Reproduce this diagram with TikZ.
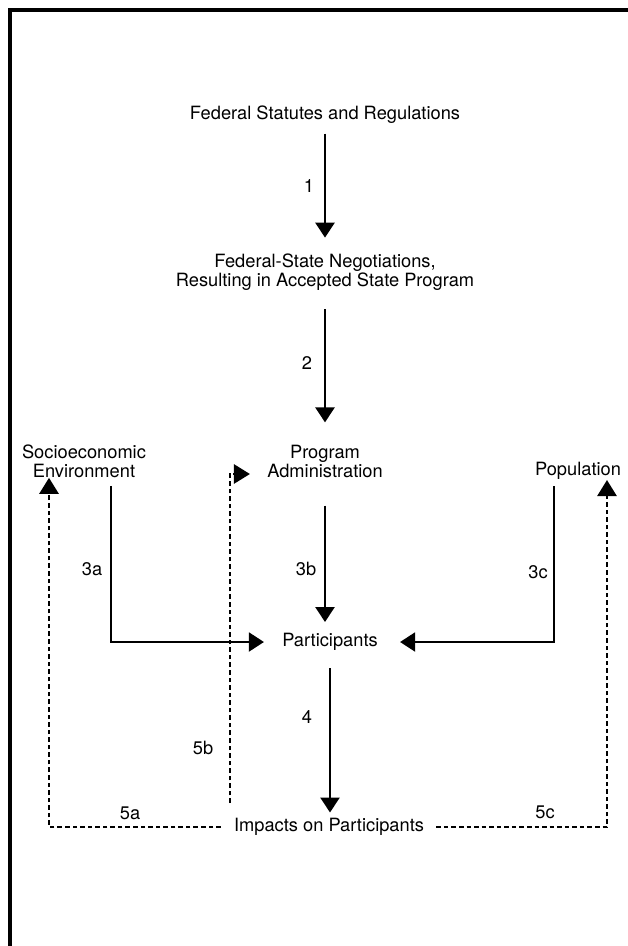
\documentclass[tikz,border=0pt]{standalone}
\usepackage{fontspec}
\setmainfont{TeX Gyre Heros}
\usetikzlibrary{arrows.meta, positioning, calc}

\tikzset{
  box/.style={inner sep=0pt, align=center, font=\fontsize{10.4}{10.8}\selectfont},
  num/.style={inner sep=0pt, font=\fontsize{10.4}{10.8}\selectfont},
  flow/.style={line width=1.5pt, -{Triangle[length=0.3cm, width=0.38cm]}},
  feedback/.style={line width=1.5pt, dash pattern=on 2.6pt off 1.7pt,
    -{Triangle[length=0.32cm, width=0.38cm]}},
}

\begin{document}
\begin{tikzpicture}[x=0.02cm, y=-0.02cm]
    \useasboundingbox (0,0) rectangle (628,946);
    % frame
    \draw[line width=1.9pt] (10,946) -- (10,10) -- (628,10);

    % main column
    \node[box] (stat) at (325,115) {Federal Statutes and Regulations};
    \node[box, font=\fontsize{10.4}{9.8}\selectfont]
      (neg) at (325,272) {Federal-State Negotiations,\\Resulting in Accepted State Program};
    \node[box] (admin) at (325,461) {Program\\Administration};
    \node[box] (socio) at (84,461) {Socioeconomic\\Environment};
    \node[box] (pop) at (578,471) {Population};
    \node[box] (part) at (330,642) {Participants};
    \node[box] (imp) at (329,827) {Impacts on Participants};
    \coordinate (back) at (230,803);

    % labels
    \node[num] (n1) at (309,186) {1};
    \node[num] (n2) at (307,363) {2};
    \node[num] (n3a) at (92,569) {3a};
    \node[num] (n3b) at (306,569) {3b};
    \node[num] (n3c) at (538,572) {3c};
    \node[num] (n4) at (307,717) {4};
    \node[num] (n5a) at (130,813) {5a};
    \node[num] (n5b) at (203,748) {5b};
    \node[num] (n5c) at (545,812) {5c};

    \draw[flow, shorten <=0.19cm, shorten >=0.31cm] (stat) -- (neg);
    \draw[flow, shorten <=0.37cm, shorten >=0.44cm] (neg) -- (admin);
    \draw[flow, shorten <=0.56cm, shorten >=0.22cm] (admin) -- (admin |- part.north);
    \draw[flow, shorten <=0.34cm, shorten >=0.11cm] (part) -- (part |- imp.north);
    \draw[flow, line width=1.1pt, shorten <=0.16cm, shorten >=0.36cm]
      ([xshift=0.54cm]socio.south) |- (part.west);
    \draw[flow, line width=1.1pt, shorten <=0.12cm, shorten >=0.44cm]
      ([xshift=-0.48cm]pop.south) |- (part.east);

    % feedback
    \draw[feedback, shorten <=0.26cm] (imp.west) -| ([xshift=-0.7cm]socio.south);
    \draw[feedback, shorten >=0.34cm] (back) |- ([yshift=-0.26cm]admin.west);
    \draw[feedback, shorten <=0.24cm] (imp.east) -| ([xshift=0.58cm]pop.south);
\end{tikzpicture}
\end{document}
